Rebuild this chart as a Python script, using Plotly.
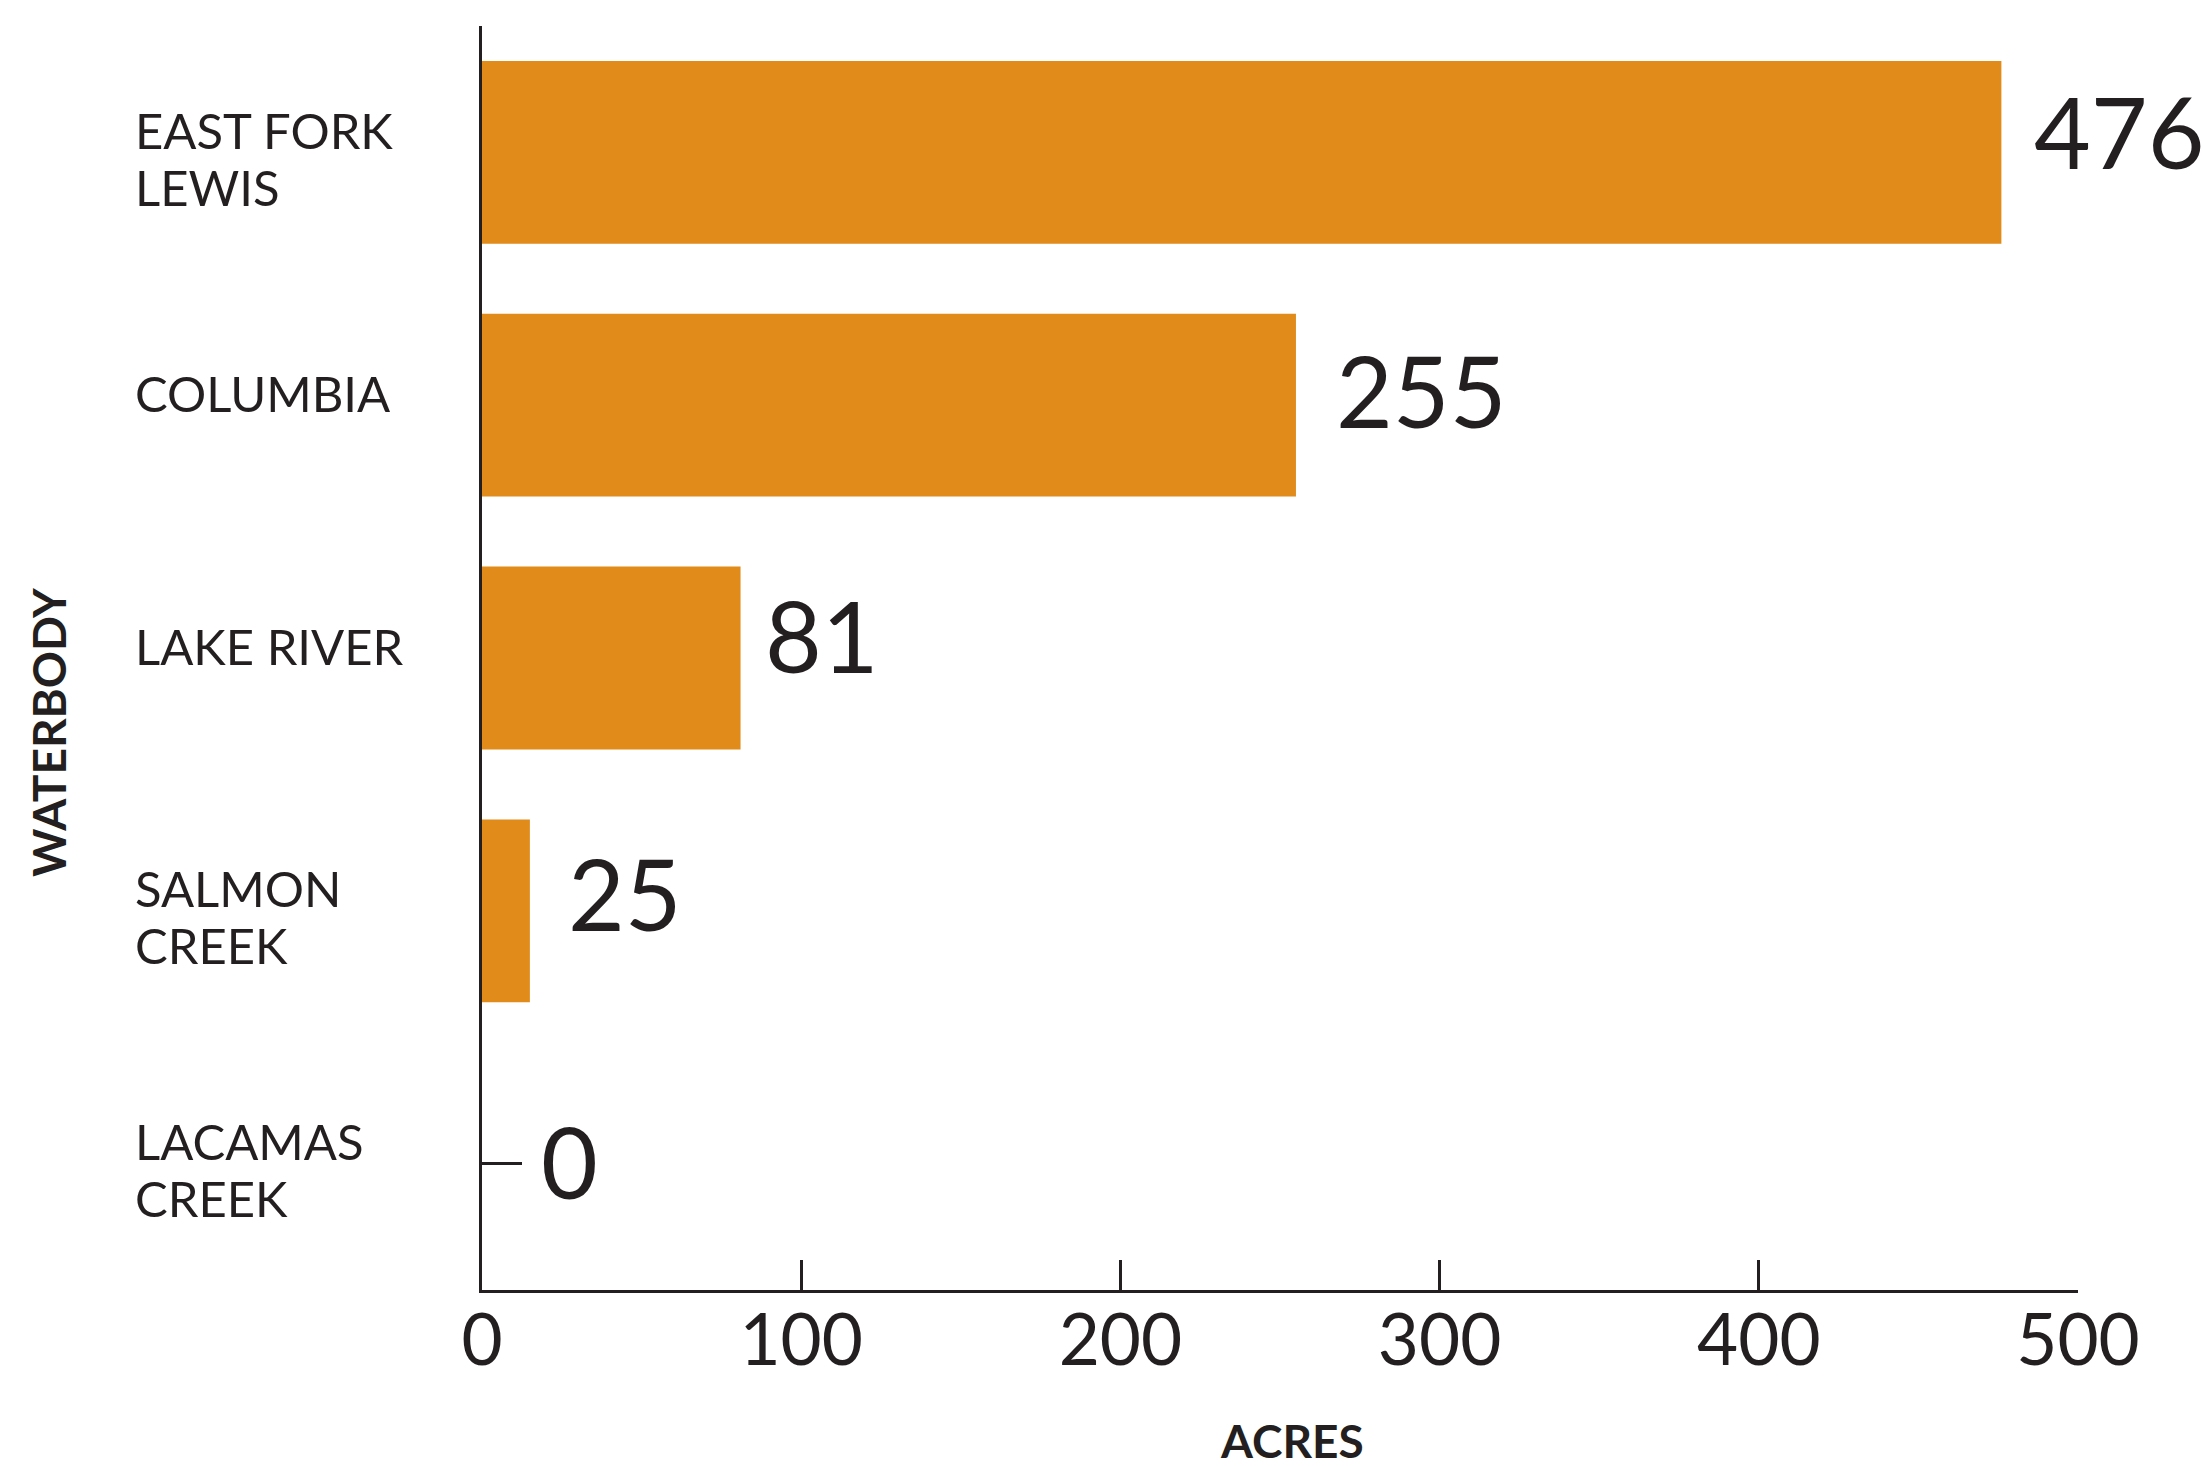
import plotly.graph_objects as go

# ---- data ----
categories = ["EAST FORK<br>LEWIS", "COLUMBIA", "LAKE RIVER", "SALMON<br>CREEK", "LACAMAS<br>CREEK"]
bar_values = [476, 255, 81, 15, 0]
value_labels = ["476", "255", "81", "25", "0"]
x_tick_values = [0, 100, 200, 300, 400, 500]
x_tick_labels = ["0", "100", "200", "300", "400", "500"]
x_title = "ACRES"
y_title = "WATERBODY"

# ---- style ----
BAR_COLOR = "#E18B1A"
INK = "#231F20"
FONT = "Lato"
W, H = 2203, 1466
M_L, M_R, M_T, M_B = 482, 125, 26, 176
LABEL_XSHIFT = [31, 38, 22, 36, 57]
LABEL_YSHIFT = [21, 15, 23, 18, 3]
ZERO_STUB_PX = 40

idx = list(range(len(categories)))

fig = go.Figure()
fig.add_trace(go.Bar(
    x=bar_values, y=idx, orientation="h",
    marker=dict(color=BAR_COLOR, line=dict(width=0)),
    hoverinfo="skip", showlegend=False,
))

annotations = []
# category labels (left aligned)
for i, cat in enumerate(categories):
    lines = cat.split("<br>")
    n = len(lines)
    for j, line in enumerate(lines):
        annotations.append(dict(
            x=-0.2186, xref="paper", y=i, yref="y",
            text=line, showarrow=False, xanchor="left", yanchor="middle",
            yshift=((n - 1) / 2 - j) * 57 - (6 if n > 1 else -12),
            font=dict(family=FONT, size=49, color=INK),
        ))
# value labels
for i, (v, t) in enumerate(zip(bar_values, value_labels)):
    annotations.append(dict(
        x=v, xref="x", y=i, yref="y", text=t, showarrow=False,
        xanchor="left", yanchor="middle",
        xshift=LABEL_XSHIFT[i], yshift=LABEL_YSHIFT[i],
        font=dict(family=FONT, size=98, color=INK),
    ))
# axis titles
annotations.append(dict(
    x=0.5075, xref="paper", y=-(1440 - 1290) / (H - M_T - M_B), yref="paper",
    text=f"<b>{x_title}</b>", showarrow=False, xanchor="center", yanchor="middle",
    font=dict(family=FONT, size=46, color=INK),
))
annotations.append(dict(
    x=-(482 - 48) / (W - M_L - M_R), xref="paper", y=1 - (732 - M_T) / (H - M_T - M_B), yref="paper",
    text=f"<b>{y_title}</b>", showarrow=False, xanchor="center", yanchor="middle",
    textangle=-90,
    font=dict(family=FONT, size=46, color=INK),
))

shapes = []
for i, v in enumerate(bar_values):
    if v == 0:
        shapes.append(dict(
            type="line", xref="x", yref="y", xsizemode="pixel", xanchor=0,
            x0=0, x1=ZERO_STUB_PX, y0=i, y1=i,
            line=dict(color=INK, width=3),
        ))

fig.update_layout(
    width=W, height=H,
    margin=dict(l=M_L, r=M_R, t=M_T, b=M_B),
    paper_bgcolor="white", plot_bgcolor="white",
    bargap=0.277,
    font=dict(family=FONT, color=INK),
    annotations=annotations,
    shapes=shapes,
    xaxis=dict(
        range=[0, 500], tickmode="array", tickvals=x_tick_values, ticktext=x_tick_labels,
        ticks="inside", ticklen=30, tickwidth=3, tickcolor=INK,
        showline=True, linecolor=INK, linewidth=3,
        showgrid=False, zeroline=False,
        tickfont=dict(family=FONT, size=71, color=INK),
        ticklabelstandoff=-13,
    ),
    yaxis=dict(
        range=[len(categories) - 0.5, -0.5],
        showticklabels=False, ticks="",
        showline=True, linecolor=INK, linewidth=3,
        showgrid=False, zeroline=False,
    ),
)

fig.write_html(
    "out.html",
    config={"displayModeBar": False},
    post_script="document.body.style.margin='0';document.body.style.overflow='hidden';",
)
